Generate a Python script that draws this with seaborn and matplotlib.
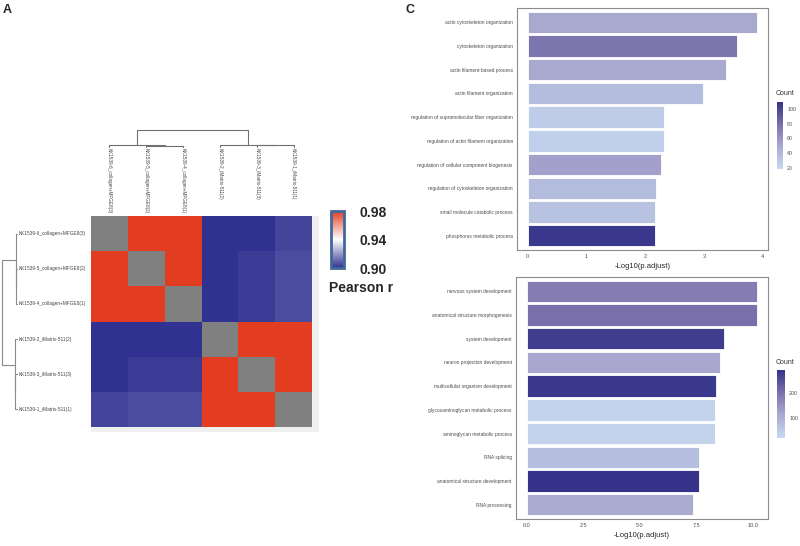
import numpy as np
import pandas as pd
import matplotlib
matplotlib.use("Agg")
import matplotlib.pyplot as plt
import seaborn as sns
from matplotlib.colors import LinearSegmentedColormap, Normalize
from matplotlib.cm import ScalarMappable
from matplotlib.transforms import blended_transform_factory

sns.set_style("white")
plt.rcParams['font.family'] = ['Liberation Sans', 'DejaVu Sans']

# ---- panel A data: sample correlation (Pearson r), diagonal left empty ----
samples = ['KK1539-6_collagen+MFGE8(3)', 'KK1539-5_collagen+MFGE8(2)', 'KK1539-4_collagen+MFGE8(1)',
           'KK1539-2_iMatrix-511(2)', 'KK1539-3_iMatrix-511(3)', 'KK1539-1_iMatrix-511(1)']
corr_r1 = [np.nan, 0.985, 0.985, 0.895, 0.896, 0.904]
corr_r2 = [0.985, np.nan, 0.985, 0.895, 0.902, 0.905]
corr_r3 = [0.985, 0.985, np.nan, 0.895, 0.902, 0.905]
corr_r4 = [0.895, 0.895, 0.895, np.nan, 0.985, 0.985]
corr_r5 = [0.896, 0.902, 0.902, 0.985, np.nan, 0.985]
corr_r6 = [0.904, 0.905, 0.905, 0.985, 0.985, np.nan]
# clustering merges (left id, right id, height); new clusters numbered from 6
merges = [(1, 2, 0.010), (0, 6, 0.013), (4, 5, 0.015), (3, 8, 0.018), (7, 9, 0.115)]

# ---- panel C data ----
top_terms = ['actin cytoskeleton organization', 'cytoskeleton organization', 'actin filament-based process',
             'actin filament organization', 'regulation of supramolecular fiber organization',
             'regulation of actin filament organization', 'regulation of cellular component biogenesis',
             'regulation of cytoskeleton organization', 'small molecule catabolic process',
             'phosphorus metabolic process']
top_logp = [3.90, 3.56, 3.38, 2.98, 2.32, 2.32, 2.27, 2.19, 2.16, 2.16]
top_count = [50, 76, 50, 37, 28, 25, 54, 38, 34, 107]

bot_terms = ['nervous system development', 'anatomical structure morphogenesis', 'system development',
             'neuron projection development', 'multicellular organism development',
             'glycosaminoglycan metabolic process', 'aminoglycan metabolic process', 'RNA splicing',
             'anatomical structure development', 'RNA processing']
bot_logp = [10.19, 10.19, 8.72, 8.54, 8.39, 8.33, 8.33, 7.61, 7.61, 7.37]
bot_count = [184, 203, 279, 116, 285, 34, 34, 72, 292, 110]

W, H = 800, 546
fig = plt.figure(figsize=(8, 5.46), dpi=100)


def rect(x0, y0, x1, y1):
    return [x0 / W, 1 - y1 / H, (x1 - x0) / W, (y1 - y0) / H]


def draw_dendro(ax, merges, n, orient):
    pos = {i: i + 0.5 for i in range(n)}
    hgt = {i: 0.0 for i in range(n)}
    for k, (a, b, h) in enumerate(merges):
        xs = [pos[a], pos[a], pos[b], pos[b]]
        ys = [hgt[a], h, h, hgt[b]]
        if orient == 'top':
            ax.plot(xs, ys, color='#707070', lw=0.8, clip_on=False)
        else:
            ax.plot(ys, xs, color='#8a8a8a', lw=0.8, clip_on=False)
        pos[n + k] = (pos[a] + pos[b]) / 2
        hgt[n + k] = h
    ax.axis('off')


# ---- panel A heatmap ----
corr = pd.DataFrame([corr_r1, corr_r2, corr_r3, corr_r4, corr_r5, corr_r6], index=samples, columns=samples)
hm_cmap = LinearSegmentedColormap.from_list('bwr_r', ['#313191', '#ffffff', '#e33d21'])
hm_cmap.set_bad('#808080')

ax_hm = fig.add_axes(rect(91, 216, 319, 432))
ax_hm.set_facecolor('#efefef')
sns.heatmap(corr, ax=ax_hm, cmap=hm_cmap, vmin=0.90, vmax=0.98, cbar=False,
            xticklabels=False, yticklabels=False)
ax_hm.set_xlim(0, 6 * 228 / 221)
ax_hm.set_ylim(6 * 216 / 211, 0)
ax_hm.set_xticks([])
ax_hm.set_yticks([])
ax_hm.set_xlabel('')
ax_hm.set_ylabel('')

tr_rows = blended_transform_factory(fig.transFigure, ax_hm.transData)
for i, s in enumerate(samples):
    ax_hm.text(19 / W, i + 0.5, s, transform=tr_rows, ha='left', va='center', fontsize=3.4, color='#444444')
tr_cols = blended_transform_factory(ax_hm.transData, fig.transFigure)
for j, s in enumerate(samples):
    ax_hm.text(j + 0.5, 1 - 148 / H, s, transform=tr_cols, ha='center', va='top', rotation=-90,
               fontsize=3.3, color='#444444')

ax_cd = fig.add_axes(rect(91, 130, 319, 147.3))
ax_cd.set_xlim(0, 6 * 228 / 221)
ax_cd.set_ylim(0, merges[-1][2])
draw_dendro(ax_cd, merges, 6, 'top')

ax_rd = fig.add_axes(rect(1.7, 216, 17.3, 432))
ax_rd.set_ylim(6 * 216 / 211, 0)
ax_rd.set_xlim(merges[-1][2], 0)
draw_dendro(ax_rd, merges, 6, 'left')

cax_r = fig.add_axes(rect(331, 211, 344, 268))
cb_r = fig.colorbar(ScalarMappable(Normalize(0.90, 0.98), hm_cmap), cax=cax_r,
                    ticks=[0.90, 0.94, 0.98], format='%.2f')
cb_r.outline.set_edgecolor('#41689a')
cb_r.outline.set_linewidth(2)
cax_r.tick_params(length=0, pad=11, labelsize=10)
for t in cax_r.get_yticklabels():
    t.set_fontweight('bold')
fig.text(329 / W, 1 - 288 / H, 'Pearson r', fontsize=10, fontweight='bold', va='center', ha='left')

# ---- panel C bar charts ----
cnt_cmap = LinearSegmentedColormap.from_list(
    'cnt', [(0, '#c6daf0'), (0.35, '#a9a8d0'), (0.65, '#7c73ad'), (1, '#36348a')])


def go_bar(ax, cax, terms, logp, count, vmin, vmax, cticks, xlim, xticks, xfmt, count_y):
    norm = Normalize(vmin, vmax)
    colors = [cnt_cmap(norm(c)) for c in count]
    df = pd.DataFrame({'term': terms, 'logp': logp})
    sns.barplot(data=df, x='logp', y='term', hue='term', palette=colors, legend=False, ax=ax,
                width=0.9, saturation=1, edgecolor='white', linewidth=0.6)
    ax.set_xlim(*xlim)
    ax.set_ylim(len(terms) - 0.4, -0.6)
    ax.set_xticks(xticks)
    ax.set_xticklabels([xfmt.format(v) for v in xticks])
    ax.set_xlabel('-Log10(p.adjust)', fontsize=5.5, labelpad=3)
    ax.set_ylabel('')
    ax.tick_params(axis='both', length=2, width=0.5, color='#555555', labelcolor='#4d4d4d', pad=1)
    ax.tick_params(axis='y', labelsize=3.5)
    ax.tick_params(axis='x', labelsize=4)
    for sp in ax.spines.values():
        sp.set_color('#8c8c8c')
        sp.set_linewidth(0.8)
    cb = fig.colorbar(ScalarMappable(norm, cnt_cmap), cax=cax, ticks=cticks)
    cb.outline.set_visible(False)
    cax.tick_params(direction='in', length=1.5, width=0.4, color='white', labelsize=3.8,
                    labelcolor='#4d4d4d', pad=3)
    fig.text(776 / W, 1 - count_y / H, 'Count', fontsize=5, va='center', ha='left', color='#333333')


ax_top = fig.add_axes(rect(517, 8, 768, 250))
cax_top = fig.add_axes(rect(777, 102, 783, 169))
go_bar(ax_top, cax_top, top_terms, top_logp, top_count, 19, 109, [20, 40, 60, 80, 100],
       (-0.18, 4.09), [0, 1, 2, 3, 4], '{:g}', 93)

ax_bot = fig.add_axes(rect(516, 277, 768, 519))
cax_bot = fig.add_axes(rect(777, 370, 785, 438))
go_bar(ax_bot, cax_bot, bot_terms, bot_logp, bot_count, 20, 293, [100, 200],
       (-0.49, 10.68), [0, 2.5, 5, 7.5, 10], '{:.1f}', 362)

fig.text(3 / W, 1 - 10 / H, 'A', fontsize=9, fontweight='bold', va='center', ha='left')
fig.text(405 / W, 1 - 10 / H, 'C', fontsize=9, fontweight='bold', va='center', ha='left')

fig.savefig('out.png', dpi=100)
